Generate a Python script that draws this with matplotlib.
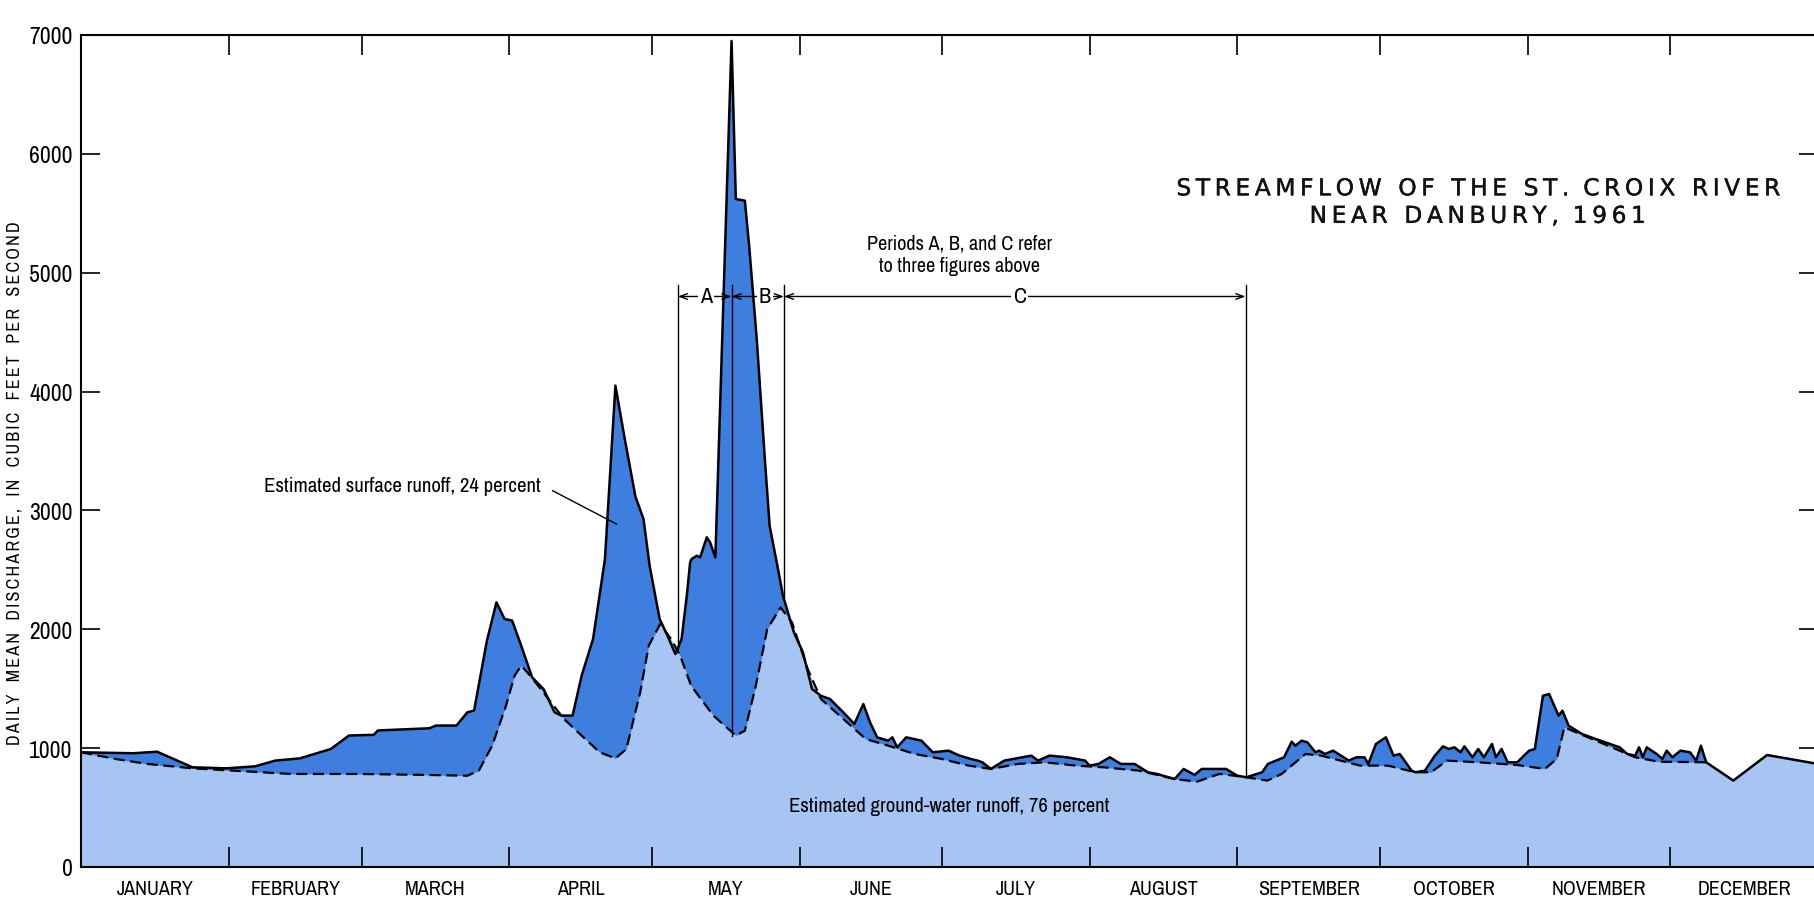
import numpy as np
import matplotlib
matplotlib.use('Agg')
import matplotlib.pyplot as plt
import matplotlib.patheffects as pe
from matplotlib import font_manager

# St. Croix River near Danbury, 1961 - daily mean discharge (cfs), read off the hydrograph
# x is day of year (0 = Jan 1)
total_days = [0, 11, 16, 23.4, 30.5, 36.6, 40.8, 46, 52.5, 56.3, 61.5, 62.4, 73.2, 74.6, 78.9,
              81.2, 82.6, 85.3, 87.3, 89, 90.6, 92.5, 94.8, 97.2, 99.5, 100.9, 103.3, 105.2,
              107.6, 110.1, 112.3, 114.2, 116.5, 118.2, 119.5, 121.6, 123.2, 124.9, 126.2, 127.3,
              128, 128.3, 129.4, 130.1, 131.5, 132.2, 133.3, 136.7, 137.6, 139.5, 140.4, 142,
              143.7, 144.7, 146.8, 147.5, 149.8, 151.7, 153.6, 155.5, 157.4, 160.2, 162.5, 164.4,
              165.8, 167.3, 169.6, 170.5, 171.5, 173.4, 176.6, 179, 182.3, 184.6, 187, 188.4,
              189.4, 191.2, 194, 197.8, 199.7, 201.1, 203.5, 207.2, 211, 211.9, 213.8, 216.2,
              218.5, 221.4, 224.2, 226.1, 229.8, 231.7, 234, 235.5, 240.6, 243, 244.9, 248.2,
              249.4, 252.8, 254.4, 255.2, 256.5, 257.7, 259.4, 260.2, 261.4, 263.1, 266.4, 268,
              269.7, 270.5, 272.1, 274.2, 275.8, 277.1, 279.6, 280.4, 282.4, 284.5, 286.2, 287.4,
              288.6, 289.9, 290.7, 292.4, 293.6, 294.8, 296.5, 297.3, 298.5, 299.8, 301.8, 304.3,
              305.5, 307.2, 308.5, 310.5, 311.3, 312.6, 315.4, 318.3, 323.3, 324.9, 326.6, 327.4,
              328.2, 329, 331.1, 332.3, 333.2, 334.4, 336.1, 338.1, 339.4, 340.4, 341.5, 347.2,
              354.3, 365]
total_cfs = [965, 957, 970, 839, 830, 847, 895, 914, 993, 1106, 1112, 1149, 1167, 1190, 1190,
             1302, 1316, 1905, 2227, 2087, 2073, 1862, 1595, 1497, 1302, 1274, 1274, 1610,
             1918, 2591, 4050, 3615, 3117, 2928, 2532, 2086, 1950, 1792, 1918, 2283,
             2563, 2591, 2619, 2605, 2774, 2731, 2605, 6950, 5620, 5606, 5227, 4440,
             3432, 2872, 2436, 2283, 1974, 1806, 1498, 1440, 1413, 1301, 1203, 1371,
             1217, 1091, 1063, 1091, 1007, 1091, 1063, 965, 979, 937, 909, 895,
             881, 825, 895, 923, 937, 895, 937, 923, 895, 853, 867, 923,
             867, 867, 797, 783, 740, 825, 775, 825, 825, 768, 755, 797,
             867, 923, 1054, 1021, 1063, 1049, 965, 979, 951, 979, 895, 923,
             923, 867, 1035, 1091, 937, 951, 811, 797, 811, 937, 1015, 993,
             1007, 965, 1015, 923, 993, 923, 1035, 923, 993, 881, 881, 979,
             993, 1441, 1455, 1273, 1315, 1189, 1119, 1077, 1007, 951, 937, 1007,
             923, 1007, 951, 909, 979, 923, 979, 965, 895, 1021, 881, 727,
             942, 867]

base_days = [0, 7.4, 14, 23.4, 31.8, 44.1, 58.2, 73.3, 81.2, 83.6, 86.4, 89.3, 91.1, 92.5,
             94.4, 97.7, 101.5, 105.2, 109, 112.3, 114.6, 117.5, 119.3, 121.7, 124, 125.9,
             128.2, 132.9, 137.6, 139.5, 141.8, 144.2, 147, 149.4, 152.7, 155.5, 160.2, 164.9,
             169.6, 175.2, 180.9, 186.5, 191.2, 196.9, 202.5, 209.1, 214.8, 222.3, 229.8, 234.5,
             239.2, 244, 249.3, 252.3, 257.3, 260.6, 268.8, 274.6, 280.4, 283.7, 287, 293.6,
             301.8, 307.6, 310.1, 311.7, 315, 320, 326.6, 331.5, 341.5]
base_cfs = [965, 908, 867, 830, 811, 783, 783, 774, 768, 811, 1021, 1357, 1609, 1694,
            1609, 1441, 1245, 1105, 965, 914, 993, 1469, 1862, 2044, 1918, 1778,
            1525, 1273, 1105, 1147, 1525, 2002, 2184, 2058, 1666, 1413, 1245, 1077,
            1021, 951, 909, 853, 825, 867, 881, 853, 839, 811, 740, 718,
            783, 760, 727, 783, 951, 937, 853, 853, 797, 797, 895, 881,
            858, 825, 909, 1175, 1119, 1035, 923, 886, 881]

month_names = ['JANUARY', 'FEBRUARY', 'MARCH', 'APRIL', 'MAY', 'JUNE', 'JULY',
               'AUGUST', 'SEPTEMBER', 'OCTOBER', 'NOVEMBER', 'DECEMBER']
month_starts = [0, 31, 59, 90, 120, 151, 181, 212, 243, 273, 304, 334, 365]

period_names = ['A', 'B', 'C']
period_edges = [125.4, 136.7, 147.7, 244.7]
period_edge_bottoms = [1830, 1100, 2260, 760]
period_label_days = [131.4, 143.7, 197.2]

DARK = '#3e7edf'
LIGHT = '#a6c5f3'


def find_narrow():
    # the original lettering is a condensed gothic; use whatever condensed sans is installed
    best = None
    for f in font_manager.fontManager.ttflist:
        n = f.name
        if any(k in n for k in ('Mono', 'Serif', 'CJK')) or f.style != 'normal':
            continue
        narrow = ('Narrow' in n or 'Condensed' in n or
                  str(f.stretch) in ('condensed', 'semi-condensed', 'extra-condensed'))
        if not narrow:
            continue
        w = f.weight if isinstance(f.weight, int) else 400
        score = abs(w - 400) + (0 if 'Narrow' in n else 50)
        if best is None or score < best[0]:
            best = (score, f.fname)
    return best[1] if best else None


NARROW_FILE = find_narrow()


def nfont(size):
    if NARROW_FILE:
        return font_manager.FontProperties(fname=NARROW_FILE, size=size)
    return font_manager.FontProperties(family='Roboto', size=size)


def spaced(s, gap='\u2009'):
    # mimic the wide letter spacing of the original lettering
    return gap.join(s)


def fit(t, target_px, vertical=False):
    # scale a text so that it spans the same length as in the original
    r = fig.canvas.get_renderer()
    bb = t.get_window_extent(r)
    cur = bb.height if vertical else bb.width
    t.set_fontsize(t.get_fontsize() * target_px / cur)


fig = plt.figure(figsize=(18.14, 9.20), dpi=100)
ax = fig.add_axes([81 / 1814, 52 / 920, (1818 - 81) / 1814, 832 / 920])

# surface runoff shows as the dark area between the two curves
ax.fill_between(total_days, 0, total_cfs, color=DARK, lw=0)
tail = [(d, v) for d, v in zip(total_days, total_cfs) if d > base_days[-1]]
light_days = base_days + [d for d, v in tail]
light_cfs = base_cfs + [v for d, v in tail]
ax.fill_between(light_days, 0, light_cfs, color=LIGHT, lw=0)

ax.plot(total_days, total_cfs, color='black', lw=1.8, solid_joinstyle='round')
ax.plot(base_days, base_cfs, color='black', lw=1.6, dashes=(5, 2.5))

# periods A, B, C
for e, b in zip(period_edges, period_edge_bottoms):
    ax.plot([e, e], [b, 4900], color='black', lw=1)
for i, name in enumerate(period_names):
    ax.annotate('', xy=(period_edges[i], 4800), xytext=(period_edges[i + 1], 4800),
                arrowprops=dict(arrowstyle='<->,head_length=0.55,head_width=0.2', lw=1,
                                color='black', shrinkA=0, shrinkB=0))
    ax.text(period_label_days[i], 4800, name, ha='center', va='center',
            fontproperties=nfont(16), bbox=dict(fc='white', ec='none', pad=1.5))

t_periods = ax.text(184.6, 5157, 'Periods A, B, and C refer\nto three figures above',
                    ha='center', va='center', fontproperties=nfont(15), linespacing=1.2)
t_surface = ax.text(67.6, 3208, 'Estimated surface runoff, 24 percent', ha='center',
                    va='center', fontproperties=nfont(15))
ax.plot([99.1, 112.5], [3166, 2886], color='black', lw=1)
t_ground = ax.text(182.5, 516, 'Estimated ground-water runoff, 76 percent', ha='center',
                   va='center', fontproperties=nfont(15))

g = '\u2009'
title = (g.join([spaced('STREAMFLOW'), ' ', spaced('OF'), ' ', spaced('THE'), ' ',
                 spaced('ST.'), g, spaced('CROIX'), ' ', spaced('RIVER')]) + '\n' +
         g.join([spaced('NEAR'), ' ', spaced('DANBURY,'), g, spaced('1961')]))
t_title = ax.text(293.4, 5590, title, ha='center', va='center', fontsize=15,
                  family='DejaVu Sans', linespacing=1.25, color='#111111',
                  path_effects=[pe.withStroke(linewidth=0.3, foreground='#111111')])

ax.set_xlim(0, 365)
ax.set_ylim(0, 7000)
ax.set_xticks(month_starts[1:-1])
ax.set_xticks([(a + b) / 2 for a, b in zip(month_starts[:-1], month_starts[1:])], minor=True)
ax.set_xticklabels(month_names, minor=True, fontproperties=nfont(14.5))
ax.tick_params(axis='x', which='major', direction='in', length=14.5, width=1.2, top=True,
               labelbottom=False)
ax.tick_params(axis='x', which='minor', length=0, pad=9)
ax.set_yticks(range(0, 7001, 1000))
ax.set_yticklabels([str(v) for v in range(0, 7001, 1000)], fontproperties=nfont(17))
ax.tick_params(axis='y', direction='in', length=14, width=1.2, right=True, pad=6)
for sp in ax.spines.values():
    sp.set_linewidth(1.5)

t_ylab = fig.text(15 / 1814, 1 - 483 / 920,
                  '   '.join(spaced(w) for w in
                             'DAILY MEAN DISCHARGE, IN CUBIC FEET PER SECOND'.split()),
                  rotation=90, ha='center', va='center', fontproperties=nfont(14))

fig.canvas.draw()
fit(t_title, 602)
fit(t_periods, 186)
fit(t_surface, 277)
fit(t_ground, 321)
fit(t_ylab, 526, vertical=True)

fig.savefig('out.png', dpi=100)
